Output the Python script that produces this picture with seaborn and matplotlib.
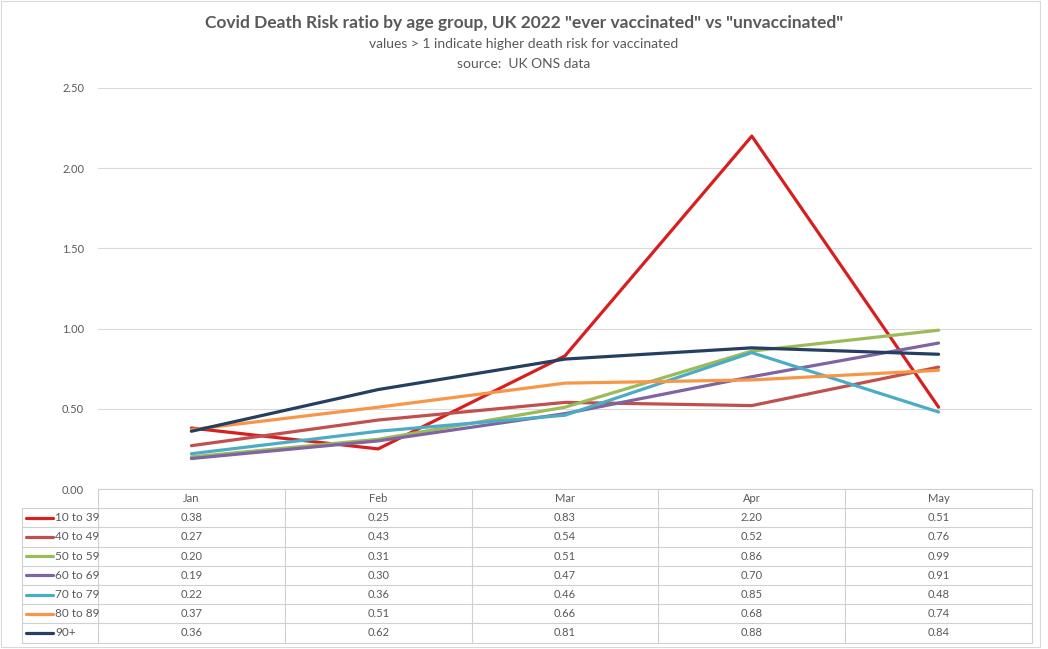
import numpy as np
import pandas as pd
import matplotlib
matplotlib.use('Agg')
import matplotlib.pyplot as plt
import seaborn as sns

months = ['Jan', 'Feb', 'Mar', 'Apr', 'May']
groups = ['10 to 39', '40 to 49', '50 to 59', '60 to 69', '70 to 79', '80 to 89', '90+']
r_10_39 = [0.38, 0.25, 0.83, 2.20, 0.51]
r_40_49 = [0.27, 0.43, 0.54, 0.52, 0.76]
r_50_59 = [0.20, 0.31, 0.51, 0.86, 0.99]
r_60_69 = [0.19, 0.30, 0.47, 0.70, 0.91]
r_70_79 = [0.22, 0.36, 0.46, 0.85, 0.48]
r_80_89 = [0.37, 0.51, 0.66, 0.68, 0.74]
r_90_plus = [0.36, 0.62, 0.81, 0.88, 0.84]
yticks = [0.0, 0.5, 1.0, 1.5, 2.0, 2.5]

series = [r_10_39, r_40_49, r_50_59, r_60_69, r_70_79, r_80_89, r_90_plus]
colors = ['#d81f1f', '#c0504d', '#9bbb59', '#8064a2', '#4bacc6', '#f79646', '#243f60']

rows = []
for g, vals in zip(groups, series):
    for i, (m, v) in enumerate(zip(months, vals)):
        rows.append({'group': g, 'month': m, 'pos': i, 'ratio': v})
df = pd.DataFrame(rows)

sns.set_style('white')
plt.rcParams['font.family'] = ['Lato', 'DejaVu Sans']

W, H = 1048, 649
fig = plt.figure(figsize=(W / 100, H / 100), dpi=100)

def fx(px):
    return px / W

def fy(py):
    return 1 - py / H

# plot area in pixel coords
left, right, top, bottom = 98, 1032, 88, 489
ax = fig.add_axes([fx(left), fy(bottom), fx(right - left), (bottom - top) / H])

sns.lineplot(data=df, x='pos', y='ratio', hue='group', hue_order=groups,
             palette=colors, linewidth=2.3, legend=False, ax=ax)

ax.set_xlim(-0.5, len(months) - 0.5)
ax.set_ylim(0, 2.5)
ax.set_yticks(yticks)
ax.set_yticklabels(['%.2f' % t for t in yticks], fontsize=8, color='#595959')
ax.tick_params(axis='y', length=0, pad=10)
ax.set_xticks([])
ax.set_xlabel('')
ax.set_ylabel('')
ax.grid(axis='y', color='#d9d9d9', linewidth=0.8)
ax.set_axisbelow(True)
for s in ax.spines.values():
    s.set_visible(False)

# titles
txt = '#595959'
fig.text(0.5, fy(23), 'Covid Death Risk ratio by age group, UK 2022 "ever vaccinated" vs "unvaccinated"',
         ha='center', va='center', fontsize=12.5, fontweight='bold', color=txt)
fig.text(0.5, fy(44), 'values > 1 indicate higher death risk for vaccinated',
         ha='center', va='center', fontsize=10, color=txt)
fig.text(0.5, fy(64), 'source:  UK ONS data',
         ha='center', va='center', fontsize=10, color=txt)

# data table under the plot
grid_c = '#d0d0d0'
row_h = 19.2
tab_left = 22
col_w = (right - left) / len(months)
header_top = bottom
header_bot = bottom + row_h
tab_bot = header_bot + row_h * len(groups)

def hline(y, x0, x1):
    fig.add_artist(plt.Line2D([fx(x0), fx(x1)], [fy(y), fy(y)], color=grid_c, lw=0.8))

def vline(x, y0, y1):
    fig.add_artist(plt.Line2D([fx(x), fx(x)], [fy(y0), fy(y1)], color=grid_c, lw=0.8))

hline(header_top, left, right)
for k in range(len(groups) + 1):
    hline(header_bot + k * row_h, tab_left, right)
vline(tab_left, header_bot, tab_bot)
for j in range(len(months) + 1):
    vline(left + j * col_w, header_top, tab_bot)

for j, m in enumerate(months):
    fig.text(fx(left + (j + 0.5) * col_w), fy(header_top + row_h / 2), m,
             ha='center', va='center', fontsize=8, color=txt)

for k, (g, vals, c) in enumerate(zip(groups, series, colors)):
    yc = header_bot + (k + 0.5) * row_h
    fig.add_artist(plt.Line2D([fx(26), fx(53)], [fy(yc), fy(yc)], color=c, lw=2.3))
    fig.text(fx(55), fy(yc), g, ha='left', va='center', fontsize=8.5, color=txt)
    for j, v in enumerate(vals):
        fig.text(fx(left + (j + 0.5) * col_w), fy(yc), '%.2f' % v,
                 ha='center', va='center', fontsize=8, color=txt)

# outer chart border
fig.add_artist(plt.Rectangle((fx(1), fy(647)), fx(1039), (646) / H, fill=False,
                             edgecolor='#d9d9d9', lw=0.8))

fig.savefig('out.png', dpi=100)
